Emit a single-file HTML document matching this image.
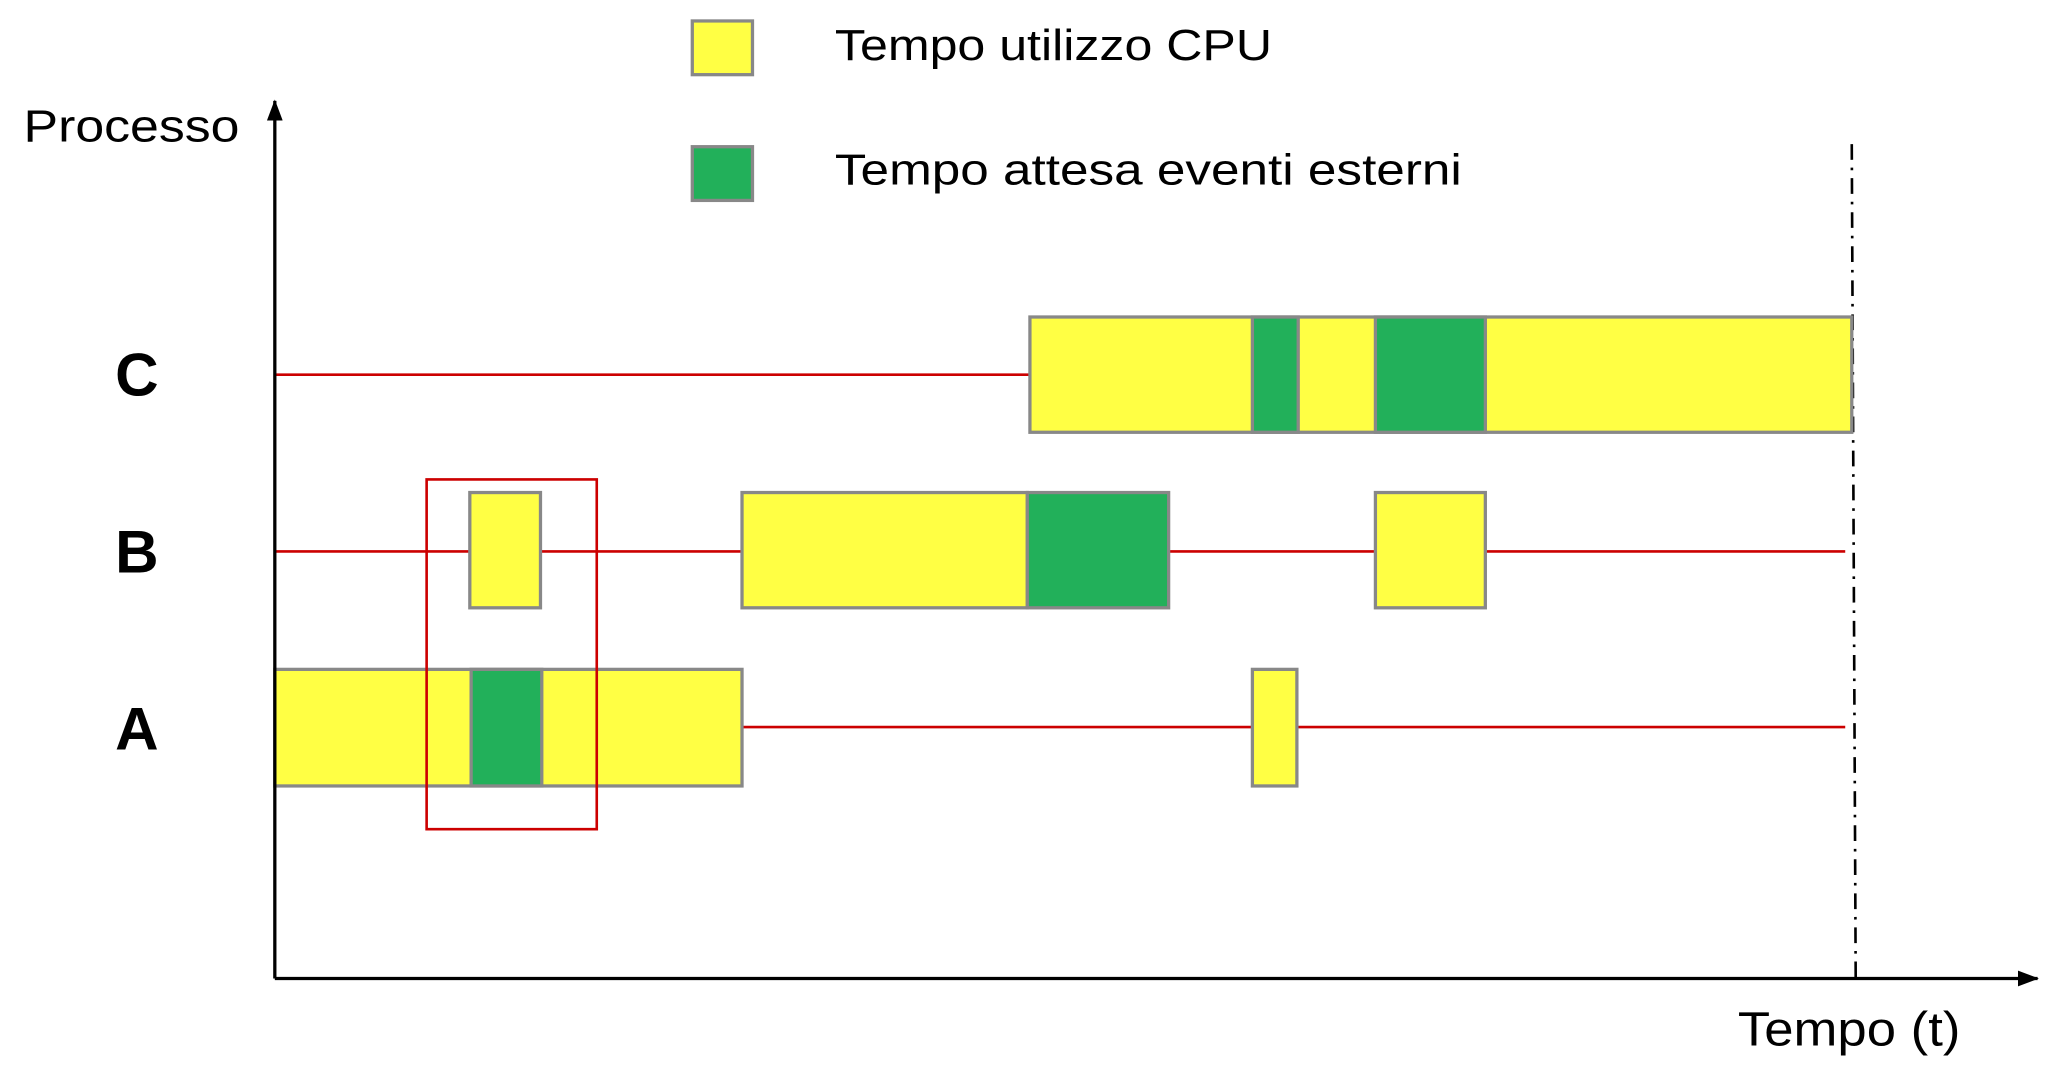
<!DOCTYPE html>
<html><head><meta charset="utf-8"><style>html,body{margin:0;padding:0;background:#fff;}svg{display:block}</style></head>
<body>
<svg width="2052" height="1082" viewBox="0 0 1568 826" preserveAspectRatio="none" xmlns="http://www.w3.org/2000/svg" font-family="Liberation Sans, sans-serif">
<defs><marker id="ar" markerWidth="16" markerHeight="12" refX="15" refY="6" orient="auto" markerUnits="userSpaceOnUse"><path d="M0,0 L16,6 L0,12 z" fill="#000"/></marker></defs>
<rect x="529" y="16" width="46" height="41" fill="#FFFF44" stroke="#888" stroke-width="2.5"/>
<rect x="529" y="112" width="46" height="41" fill="#22B05A" stroke="#888" stroke-width="2.5"/>
<text x="638" y="46" font-size="33" textLength="334" lengthAdjust="spacingAndGlyphs">Tempo utilizzo CPU</text>
<text x="638" y="141" font-size="33" textLength="479" lengthAdjust="spacingAndGlyphs">Tempo attesa eventi esterni</text>
<text x="18" y="108" font-size="35" textLength="165" lengthAdjust="spacingAndGlyphs">Processo</text>
<text x="88" y="302" font-size="46" font-weight="bold">C</text>
<text x="88" y="437" font-size="46" font-weight="bold">B</text>
<text x="88" y="572" font-size="46" font-weight="bold">A</text>
<text x="1328" y="798" font-size="37" textLength="170" lengthAdjust="spacingAndGlyphs">Tempo (t)</text>
<g stroke="#CC0000" stroke-width="2">
<line x1="210" y1="286" x2="787" y2="286"/>
<line x1="210" y1="421" x2="1410" y2="421"/>
<line x1="210" y1="555" x2="1410" y2="555"/>
</g>
<line x1="1415" y1="110" x2="1418" y2="747" stroke="#000" stroke-width="2" stroke-dasharray="12,6,2,6"/>
<g stroke="#888" stroke-width="2.5">
<rect x="787" y="242" width="628" height="88" fill="#FFFF44"/>
<rect x="957" y="242" width="35" height="88" fill="#22B05A"/>
<rect x="1051" y="242" width="84" height="88" fill="#22B05A"/>
<rect x="359" y="376" width="54" height="88" fill="#FFFF44"/>
<rect x="567" y="376" width="218" height="88" fill="#FFFF44"/>
<rect x="785" y="376" width="108" height="88" fill="#22B05A"/>
<rect x="1051" y="376" width="84" height="88" fill="#FFFF44"/>
<rect x="210" y="511" width="357" height="89" fill="#FFFF44"/>
<rect x="360" y="511" width="54" height="89" fill="#22B05A"/>
<rect x="957" y="511" width="34" height="89" fill="#FFFF44"/>
</g>
<rect x="326" y="366" width="130" height="267" fill="none" stroke="#CC0000" stroke-width="2"/>
<line x1="210" y1="747" x2="210" y2="77" stroke="#000" stroke-width="2.5" marker-end="url(#ar)"/>
<line x1="210" y1="747" x2="1557" y2="747" stroke="#000" stroke-width="2.5" marker-end="url(#ar)"/>
</svg>
</body></html>
